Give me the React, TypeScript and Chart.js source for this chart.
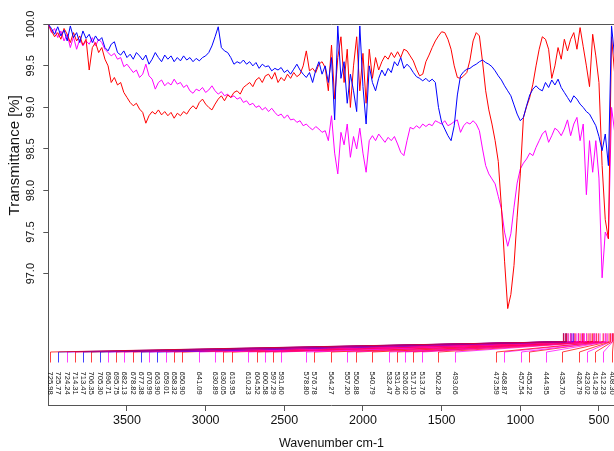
import { useEffect, useRef } from "react";
import { Chart, registerables } from "chart.js";

Chart.register(...registerables);

// x grid of the spectra: 4000 -> 400 cm-1, one point every 20 cm-1
const WN_START = 4000;
const WN_STEP = 20;

const seriesRed = [
  100.0, 99.92, 99.85, 99.9, 99.82, 99.95, 99.88, 99.78, 99.9, 99.8,
  99.86, 99.75, 99.82, 99.45, 99.72, 99.78, 99.66, 99.72, 99.58, 99.5,
  99.3, 99.36, 99.27, 99.3, 99.18, 99.12, 99.06, 99.02, 99.05, 98.98,
  98.94, 98.81, 98.9, 98.95, 98.92, 98.97, 98.91, 98.95, 98.9, 98.94,
  98.87, 98.93, 98.9, 98.95, 98.92, 98.98, 99.02, 98.98, 99.06, 99.1,
  99.04, 99.0, 98.97, 99.04, 99.1, 99.14, 99.08, 99.15, 99.12, 99.18,
  99.2, 99.16, 99.24, 99.27, 99.3, 99.25, 99.33, 99.36, 99.3, 99.38,
  99.4, 99.34, 99.42, 99.3, 99.36, 99.32, 99.4, 99.35, 99.42, 99.37,
  99.4, 99.5, 99.68, 99.44, 99.47, 99.42, 99.52, 99.55, 99.48, 99.2,
  99.75, 99.1, 99.6, 99.85, 99.3, 99.7, 99.0, 99.5, 99.85, 99.2,
  99.65, 99.05, 99.7, 99.35, 99.6, 99.45, 99.55, 99.62, 99.58, 99.66,
  99.6, 99.67, 99.6, 99.7, 99.68, 99.62, 99.56, 99.46, 99.38, 99.4,
  99.55, 99.63, 99.72, 99.8, 99.86, 99.91, 99.9, 99.82, 99.7, 99.5,
  99.36, 99.35, 99.38, 99.42, 99.57, 99.8, 99.9, 99.86, 99.55, 99.2,
  98.97, 98.8, 98.6, 98.35, 97.8, 97.15, 96.58, 96.75, 97.1, 97.68,
  98.2, 98.88, 99.01, 99.12, 99.28, 99.5, 99.7, 99.85, 99.82, 99.7,
  99.35, 99.5, 99.72, 99.58, 99.82, 99.68, 99.82, 99.9, 99.7, 99.96,
  99.73, 99.5, 99.25, 99.88, 99.62, 99.3, 98.3, 97.65, 97.42, 99.85, 99.4,
];

const seriesBlue = [
  100.0, 99.95, 99.88, 99.97, 99.86, 99.93, 99.8, 99.98, 99.84, 99.9,
  99.78, 99.92, 99.83, 99.88, 99.78, 99.86, 99.8, 99.84, 99.72, 99.68,
  99.76, 99.79, 99.66, 99.63, 99.68, 99.6, 99.64, 99.58, 99.66, 99.62,
  99.57, 99.63, 99.52, 99.58, 99.66, 99.6, 99.55, 99.63, 99.58, 99.62,
  99.55, 99.6, 99.56, 99.62, 99.57, 99.6, 99.55, 99.59, 99.56, 99.6,
  99.62, 99.66, 99.74, 99.85, 99.97, 99.72, 99.68, 99.66, 99.6, 99.52,
  99.55, 99.53, 99.57, 99.52, 99.55, 99.5, 99.54, 99.47, 99.52, 99.49,
  99.5, 99.44, 99.47, 99.45, 99.48, 99.42, 99.45, 99.4, 99.46, 99.52,
  99.45, 99.4, 99.36, 99.42, 99.3, 99.45, 99.55, 99.4, 99.5, 99.3,
  99.6, 98.85, 99.98, 99.35, 99.55, 99.05, 99.4, 99.2, 98.95, 99.98,
  99.25, 98.8, 99.5, 99.3, 99.2, 99.35, 99.45, 99.38, 99.47, 99.42,
  99.55, 99.5, 99.6, 99.47, 99.52, 99.48, 99.42, 99.37, 99.35, 99.32,
  99.35, 99.31, 99.34, 99.3, 99.0, 98.82, 98.74, 98.66, 98.6, 98.78,
  99.15, 99.38, 99.43, 99.46, 99.47, 99.5, 99.52, 99.55, 99.57, 99.54,
  99.52, 99.49, 99.44, 99.38, 99.33, 99.26, 99.2, 99.14, 99.03, 98.92,
  98.84, 98.88, 99.02, 99.15, 99.22, 99.26, 99.22, 99.2, 99.3, 99.24,
  99.33, 99.27, 99.34, 99.24, 99.18, 99.12, 99.06, 99.14, 99.1, 99.04,
  99.0, 98.95, 98.92, 98.85, 98.78, 98.65, 98.48, 98.68, 98.3, 99.98, 99.6,
];

const seriesMagenta = [
  100.0, 99.9, 99.95, 99.84, 99.92, 99.8, 99.88, 99.72, 99.85, 99.7,
  99.82, 99.74, 99.8, 99.76, 99.84, 99.74, 99.82, 99.78, 99.7, 99.66,
  99.62, 99.65, 99.58, 99.6, 99.49, 99.52, 99.47, 99.42, 99.45, 99.36,
  99.4, 99.52, 99.38, 99.34, 99.22, 99.3, 99.33, 99.26, 99.3, 99.27,
  99.34, 99.28, 99.3, 99.24, 99.27, 99.2, 99.17, 99.22, 99.2, 99.24,
  99.18, 99.21, 99.26, 99.2, 99.16, 99.19, 99.14, 99.16, 99.12, 99.14,
  99.1, 99.12, 99.06, 99.08, 99.03, 99.05, 99.0, 99.02, 98.97, 99.0,
  98.95, 98.99, 98.94, 98.9, 98.92, 98.87, 98.91, 98.85, 98.86, 98.82,
  98.84, 98.78, 98.8, 98.76, 98.73, 98.77, 98.74, 98.7, 98.72, 98.6,
  98.9, 98.45, 98.2, 98.7, 98.55, 98.8, 98.4, 98.65, 98.5, 98.75,
  98.45, 98.22, 98.6, 98.66, 98.6, 98.68, 98.63, 98.58, 98.64, 98.6,
  98.65, 98.56, 98.46, 98.42, 98.6, 98.76, 98.74, 98.78, 98.75, 98.8,
  98.77, 98.8, 98.78, 98.84, 98.82, 98.8, 98.84, 98.78, 98.8, 98.83,
  98.85, 98.7, 98.78, 98.82, 98.8, 98.84, 98.8, 98.72, 98.5, 98.3,
  98.2, 98.14, 98.08, 97.93, 97.78, 97.5, 97.33, 97.48, 97.8, 98.09,
  98.26, 98.33, 98.38, 98.45, 98.42, 98.52, 98.6, 98.68, 98.72, 98.58,
  98.66, 98.75, 98.72, 98.66, 98.74, 98.85, 98.66, 98.8, 98.88, 98.6,
  98.8, 97.95, 98.6, 98.22, 98.6, 98.15, 96.95, 97.5, 97.42, 99.0, 98.7,
];

const seriesColors = ["#ff0000", "#0000ff", "#ff00ff"];
const seriesNames = ["Sample 1", "Sample 2", "Sample 3"];

// picked peaks (cm-1) and the series each one belongs to (0 red, 1 blue, 2 magenta)
const peakWavenumbers = [
  725.98, 725.77, 724.24, 714.31, 713.47, 706.35, 705.3, 696.71, 695.75, 682.13,
  678.82, 677.38, 670.99, 663.9, 659.01, 658.32, 650.9, 641.09, 630.89, 630.05,
  619.95, 610.23, 604.52, 600.58, 597.29, 591.6, 578.8, 576.78, 564.27, 557.2,
  550.88, 540.79, 532.47, 531.4, 526.02, 517.1, 513.76, 502.26, 493.06, 473.59,
  468.87, 457.54, 455.22, 444.95, 435.7, 426.79, 423.02, 414.29, 412.23, 408.3,
];
const peakSeries = [
  0, 1, 2, 0, 1, 0, 1, 2, 0, 2,
  0, 1, 2, 1, 2, 0, 0, 2, 2, 0,
  0, 2, 0, 2, 0, 2, 2, 0, 0, 2,
  0, 0, 2, 0, 2, 0, 2, 0, 2, 0,
  2, 2, 0, 2, 0, 0, 2, 0, 2, 0,
];

const xTickValues = [3500, 3000, 2500, 2000, 1500, 1000, 500];
const yTickValues = [97.0, 97.5, 98.0, 98.5, 99.0, 99.5, 100.0];

const X_MIN = 400;
const X_MAX = 4000;
const Y_MIN = 95.42;
const Y_MAX = 100;

const AXIS_COLOR = "#555555";
const TEXT_COLOR = "#111111";
const NARROW = "'Liberation Sans Narrow', 'Arial Narrow', 'Liberation Sans', Arial, sans-serif";
const SANS = "'Liberation Sans', Arial, sans-serif";

function hexToRgba(hex: string, a: number) {
  const r = parseInt(hex.slice(1, 3), 16);
  const g = parseInt(hex.slice(3, 5), 16);
  const b = parseInt(hex.slice(5, 7), 16);
  return `rgba(${r},${g},${b},${a})`;
}

const annotationPlugin = {
  id: "spectrumAnnotations",
  afterDraw(chart: any) {
    const { ctx, chartArea: ca, scales } = chart;
    const x = scales.x;
    const y = scales.y;
    ctx.save();

    // top frame line
    ctx.strokeStyle = AXIS_COLOR;
    ctx.lineWidth = 1;
    ctx.beginPath();
    ctx.moveTo(ca.left, Math.round(ca.top) + 0.5);
    ctx.lineTo(ca.right, Math.round(ca.top) + 0.5);
    ctx.moveTo(Math.round(ca.right) - 0.5, ca.top);
    ctx.lineTo(Math.round(ca.right) - 0.5, ca.bottom);
    ctx.stroke();

    // y tick labels, rotated
    ctx.fillStyle = TEXT_COLOR;
    ctx.font = `11px ${SANS}`;
    ctx.textAlign = "center";
    ctx.textBaseline = "middle";
    for (const v of yTickValues) {
      const py = y.getPixelForValue(v);
      ctx.save();
      ctx.translate(ca.left - 17, py);
      ctx.rotate(-Math.PI / 2);
      ctx.fillText(v.toFixed(1), 0, 0);
      ctx.restore();
    }

    // y axis title
    ctx.font = `15px ${SANS}`;
    ctx.save();
    ctx.translate(ca.left - 33, ca.top + 131);
    ctx.rotate(-Math.PI / 2);
    ctx.fillText("Transmittance [%]", 0, 0);
    ctx.restore();

    // peak labels
    const n = peakWavenumbers.length;
    const maxW = Math.max(...peakWavenumbers);
    const minW = Math.min(...peakWavenumbers);
    const nSlots = 69;
    const slotLeft = ca.left + 1.7;
    const slotRight = ca.right - 3;
    const slotStep = (slotRight - slotLeft) / (nSlots - 1);
    const slots: number[] = [];
    for (let i = 0; i < n; i++) {
      const t = Math.floor(((maxW - peakWavenumbers[i]) / (maxW - minW)) * (nSlots - 1));
      slots.push(i === 0 ? t : Math.max(t, slots[i - 1] + 1));
    }
    for (let i = n - 1; i >= 0; i--) {
      const lim = i === n - 1 ? nSlots - 1 : slots[i + 1] - 1;
      if (slots[i] > lim) slots[i] = lim;
    }

    const yTickTop = ca.bottom - 71.7;
    const yTickBot = ca.bottom - 63.3;
    const yFan = ca.bottom - 53;
    const yDrop = ca.bottom - 42.5;
    const yText = ca.bottom - 33.5;

    ctx.lineWidth = 1;
    for (let i = n - 1; i >= 0; i--) {
      const col = hexToRgba(seriesColors[peakSeries[i]], 0.75);
      const px = x.getPixelForValue(peakWavenumbers[i]);
      const lx = Math.round(slotLeft + slots[i] * slotStep) + 0.5;
      ctx.strokeStyle = col;
      ctx.beginPath();
      ctx.moveTo(px, yTickTop);
      ctx.lineTo(px, yTickBot);
      ctx.lineTo(lx, yFan);
      ctx.lineTo(lx, yDrop);
      ctx.stroke();
    }

    ctx.fillStyle = TEXT_COLOR;
    ctx.font = `7.6px ${SANS}`;
    ctx.textAlign = "left";
    ctx.textBaseline = "middle";
    for (let i = 0; i < n; i++) {
      const lx = Math.round(slotLeft + slots[i] * slotStep) + 0.5;
      ctx.save();
      ctx.translate(lx, yText);
      ctx.rotate(Math.PI / 2);
      ctx.fillText(peakWavenumbers[i].toFixed(2), 0, 0);
      ctx.restore();
    }

    ctx.restore();
  },
};

export default function App() {
  const canvasRef = useRef<HTMLCanvasElement | null>(null);

  useEffect(() => {
    const canvas = canvasRef.current;
    if (!canvas) return;
    const wavenumbers = seriesRed.map((_, k) => WN_START - WN_STEP * k);
    const all = [seriesRed, seriesBlue, seriesMagenta];
    const orders = [1, 0, 2];
    const chart = new Chart(canvas, {
      type: "line",
      data: {
        datasets: all.map((vals, s) => ({
          label: seriesNames[s],
          data: vals.map((v, i) => ({ x: wavenumbers[i], y: v })),
          borderColor: seriesColors[s],
          backgroundColor: seriesColors[s],
          borderWidth: 1,
          pointRadius: 0,
          tension: 0,
          fill: false,
          order: orders[s],
        })),
      },
      options: {
        animation: false,
        responsive: false,
        maintainAspectRatio: false,
        layout: { padding: { top: 24.3, right: 5.3, left: 0, bottom: 0 } },
        plugins: { legend: { display: false }, tooltip: { enabled: false } },
        scales: {
          x: {
            type: "linear",
            reverse: true,
            min: X_MIN,
            max: X_MAX,
            afterFit: (s: any) => {
              s.height = 46;
            },
            afterBuildTicks: (s: any) => {
              s.ticks = xTickValues.map((v) => ({ value: v }));
            },
            ticks: {
              color: TEXT_COLOR,
              font: { family: NARROW, size: 12.5 },
              padding: 2,
              maxRotation: 0,
              autoSkip: false,
              callback: (v: any) => String(v),
            },
            grid: { drawOnChartArea: false, drawTicks: true, tickLength: 6, color: AXIS_COLOR },
            border: { display: true, color: AXIS_COLOR },
            title: {
              display: true,
              text: "Wavenumber cm-1",
              color: TEXT_COLOR,
              font: { family: NARROW, size: 12.5 },
              padding: { top: 0, bottom: 0 },
            },
          },
          y: {
            type: "linear",
            min: Y_MIN,
            max: Y_MAX,
            afterFit: (s: any) => {
              s.width = 48.3;
            },
            afterBuildTicks: (s: any) => {
              s.ticks = yTickValues.map((v) => ({ value: v }));
            },
            ticks: { display: false },
            grid: { drawOnChartArea: false, drawTicks: true, tickLength: 5, color: AXIS_COLOR },
            border: { display: true, color: AXIS_COLOR },
          },
        },
      },
      plugins: [annotationPlugin],
    });
    return () => chart.destroy();
  }, []);

  return (
    <div
      style={{
        position: "fixed",
        left: 0,
        top: 0,
        width: 614,
        height: 451,
        overflow: "hidden",
        background: "#ffffff",
      }}
    >
      <canvas ref={canvasRef} width={620} height={451} style={{ display: "block", width: 620, height: 451 }} />
    </div>
  );
}
